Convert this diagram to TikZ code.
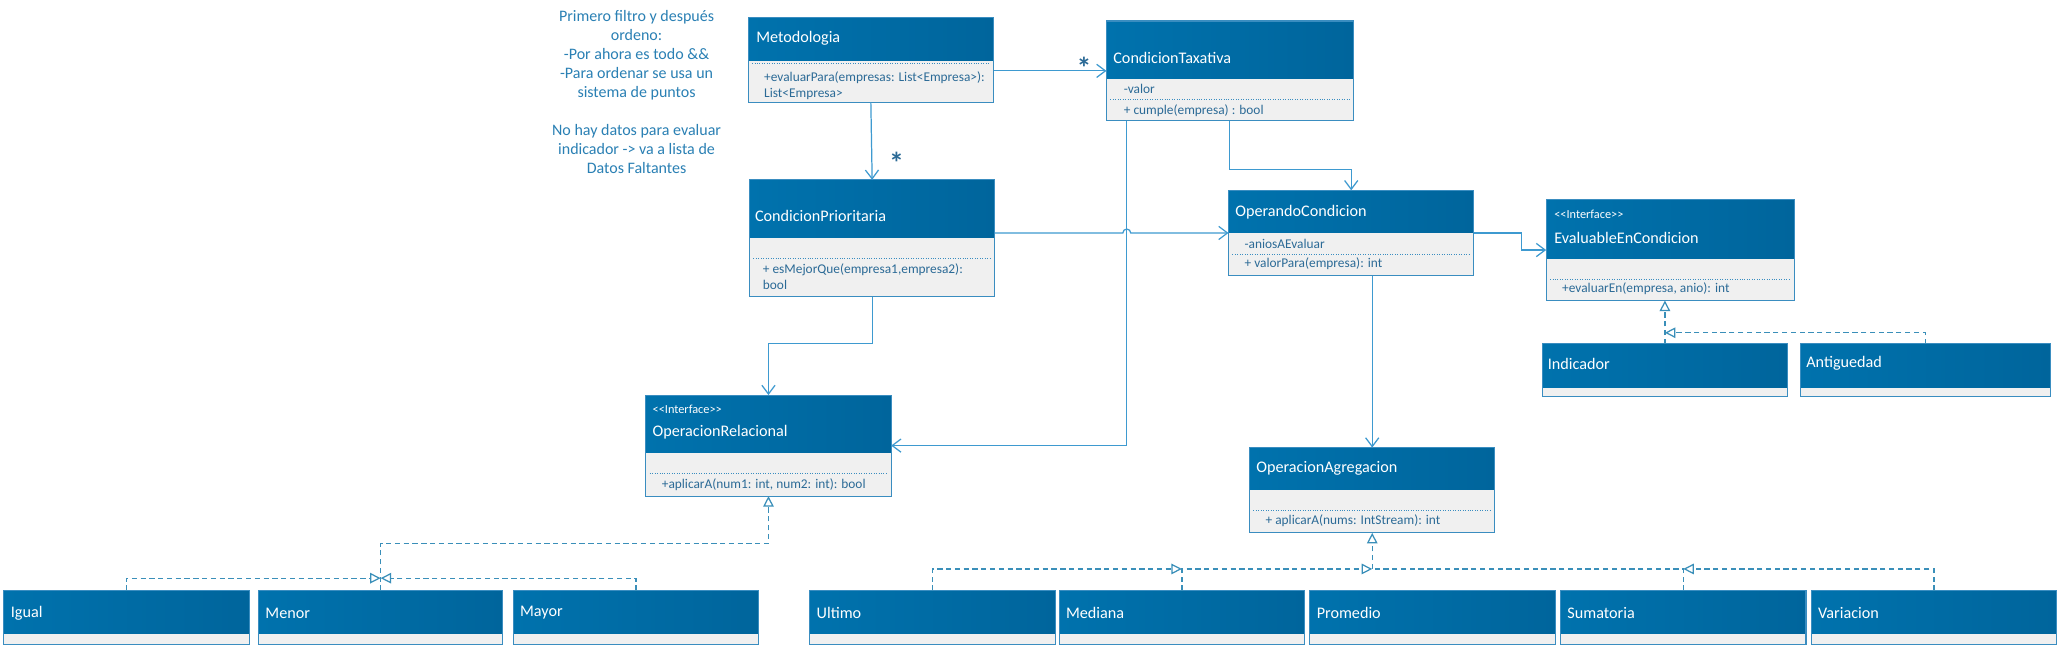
\documentclass[tikz,border=0pt]{standalone}
\usepackage{fontspec}
\setmainfont{Carlito}
\usetikzlibrary{arrows.meta,calc}

\definecolor{azulA}{HTML}{0072AD}
\definecolor{azulC}{HTML}{0080BE}
\definecolor{azulB}{HTML}{00659C}
\definecolor{fondouml}{HTML}{F0F0F0}
\definecolor{bordeuml}{HTML}{3A8DC0}
\definecolor{textouml}{HTML}{2B6A96}
\definecolor{lineauml}{HTML}{3E9AD0}
\definecolor{guionuml}{HTML}{3A8FB9}
\definecolor{notauml}{HTML}{2A80B4}

\tikzset{
  cuerpo/.style={fill=fondouml, inner sep=0pt, outer sep=0pt},
  cabecera/.style={left color=azulA, middle color=azulC, right color=azulB},
  titulo/.style={anchor=west, inner sep=0pt, text=white, font=\fontsize{9.2}{11}\selectfont},
  estereo/.style={anchor=west, inner sep=0pt, text=white, font=\fontsize{7}{8}\selectfont},
  miembro/.style={anchor=west, inner sep=0pt, text=textouml, align=left, font=\fontsize{7.6}{9}\selectfont},
  separa/.style={draw=bordeuml, densely dotted, line width=0.4pt},
  nota/.style={inner sep=0pt, text=notauml, align=center, font=\fontsize{9.1}{10.8}\selectfont},
  estrella/.style={inner sep=0pt, text=textouml, font=\fontsize{17}{17}\selectfont\bfseries},
  asocia/.style={draw=lineauml, line width=0.7pt, -{Straight Barb[length=5pt,width=7.5pt]}},
  guion/.style={draw=guionuml, line width=0.7pt, dash pattern=on 3pt off 2pt},
  realiza/.style={guion, -{Triangle[length=6pt,width=6pt,fill=white]}},
}

\newcommand{\escala}{0.02625cm}
% \clase{nombre}{izq}{arriba}{der}{abajo}{fin cabecera}
\newcommand{\clase}[6]{%
  \node[cuerpo, minimum width={(#4-#2)*\escala}, minimum height={(#5-#3)*\escala}]
    (#1) at ({(#2+#4)/2},{(#3+#5)/2}) {};
  \shade[cabecera] (#2,#3) rectangle (#4,#6);
  \draw[bordeuml, line width=0.6pt] (#1.north west) rectangle (#1.south east);
}

\begin{document}
\begin{tikzpicture}[x=0.02625cm, y=-0.02625cm]
\useasboundingbox[fill=white] (0,0) rectangle (1568,492);

% nota
\node[nota] (nota) at (485,70) {Primero filtro y después\\ordeno:\\-Por ahora es todo \&\&\\-Para ordenar se usa un\\sistema de puntos\\[10.8pt]No hay datos para evaluar\\indicador -> va a lista de\\Datos Faltantes};

% clases
\clase{meto}{570}{13}{757}{78}{46}
\node[titulo] (meto-t) at (576,29.5) {Metodologia};
\draw[separa] (573,48.5) -- (754,48.5);
\node[miembro] (meto-m) at (582,65) {+evaluarPara(empresas: List<Empresa>):\\List<Empresa>};

\clase{taxa}{843}{16}{1031}{92}{60}
\node[titulo] (taxa-t) at (848,44) {CondicionTaxativa};
\node[miembro] (taxa-a) at (856,68) {-valor};
\draw[separa] (846,75.5) -- (1028,75.5);
\node[miembro] (taxa-m) at (856,84) {+ cumple(empresa) : bool};

\clase{prior}{571}{137}{758}{226}{181}
\node[titulo] (prior-t) at (575,164.5) {CondicionPrioritaria};
\draw[separa] (574,197) -- (755,197);
\node[miembro] (prior-m) at (581,211) {+ esMejorQue(empresa1,empresa2):\\bool};

\clase{ope}{936}{145}{1123}{210}{177}
\node[titulo] (ope-t) at (941,161.5) {OperandoCondicion};
\node[miembro] (ope-a) at (948,186) {-aniosAEvaluar};
\draw[separa] (939,193.5) -- (1120,193.5);
\node[miembro] (ope-m) at (948,201) {+ valorPara(empresa): int};

\clase{eval}{1178}{152}{1367}{229}{197}
\node[estereo] (eval-s) at (1184,163) {<{}<Interface>{}>};
\node[titulo] (eval-t) at (1184,181) {EvaluableEnCondicion};
\draw[separa] (1181,212.5) -- (1364,212.5);
\node[miembro] (eval-m) at (1190,220) {+evaluarEn(empresa, anio): int};

\clase{indi}{1175}{262}{1362}{302}{295}
\node[titulo] (indi-t) at (1179,277) {Indicador};
\clase{anti}{1372}{262}{1562}{302}{295}
\node[titulo] (anti-t) at (1376,277) {Antiguedad};

\clase{rel}{492}{301}{679}{378}{345}
\node[estereo] (rel-s) at (497,312) {<{}<Interface>{}>};
\node[titulo] (rel-t) at (497,329) {OperacionRelacional};
\draw[separa] (495,361) -- (676,361);
\node[miembro] (rel-m) at (504,369) {+aplicarA(num1: int, num2: int): bool};

\clase{agr}{952}{341}{1139}{406}{373}
\node[titulo] (agr-t) at (957,357) {OperacionAgregacion};
\draw[separa] (955,389) -- (1136,389);
\node[miembro] (agr-m) at (964,397) {+ aplicarA(nums: IntStream): int};

% hojas
\foreach \nom/\izq/\der/\txt in {igual/3/190/Igual, menor/197/383/Menor, mayor/391/578/Mayor,
    ulti/617/804/Ultimo, medi/807/994/Mediana, prom/998/1185/Promedio,
    sum/1189/1376/Sumatoria, vari/1380/1567/Variacion}{
  \clase{\nom}{\izq}{450}{\der}{491}{483}
  \node[titulo] (\nom-t) at (\izq+5,467) {\txt};
}

% asociaciones
\draw[asocia] (meto.east |- taxa.west) -- (taxa.west);
\node[estrella] (estrella1) at (826,52) {*};
\draw[asocia] (meto.south) -- (prior.north);
\node[estrella] (estrella2) at (683,124) {*};
\draw[asocia] (taxa.south) -- ++(0,37) -| (ope.north);
\coordinate (taxabaja) at ([shift={(15.5,0)}]taxa.south west);
\draw[asocia] (taxabaja) |- (rel.east);
\coordinate (cruce) at (taxabaja |- ope.west);
\draw[asocia] (prior.east |- ope.west) -- ([shift={(-3,0)}]cruce)
  arc[start angle=180, end angle=0, radius=3*\escala] -- (ope.west);
\draw[asocia] (prior.south) -- ++(0,36) -| (rel.north);
\draw[asocia] (ope.east) -- ++(36.5,0) |- (eval.west);
\draw[asocia] (agr.north |- ope.south) -- (agr.north);

% realizaciones
\coordinate (busrel) at ($(menor.north)+(0,-9.5)$);
\draw[realiza] (igual.north) |- (busrel);
\draw[realiza] (mayor.north) |- (busrel);
\draw[realiza] (menor.north) -- ++(0,-36) -| (rel.south);

\coordinate (busagr) at ($(agr.south |- medi.north)+(0,-16.5)$);
\draw[realiza] (ulti.north) |- (medi.north |- busagr);
\draw[realiza] (medi.north) |- (busagr);
\draw[guion] (sum.north) |- (busagr);
\draw[realiza] (vari.north) |- (sum.north |- busagr);
\draw[realiza] (busagr) -- (agr.south);

\coordinate (buseval) at ($(indi.north)+(0,-8.5)$);
\draw[realiza] (indi.north) -- (indi.north |- eval.south);
\draw[realiza] (anti.north) |- (buseval);
\end{tikzpicture}
\end{document}
